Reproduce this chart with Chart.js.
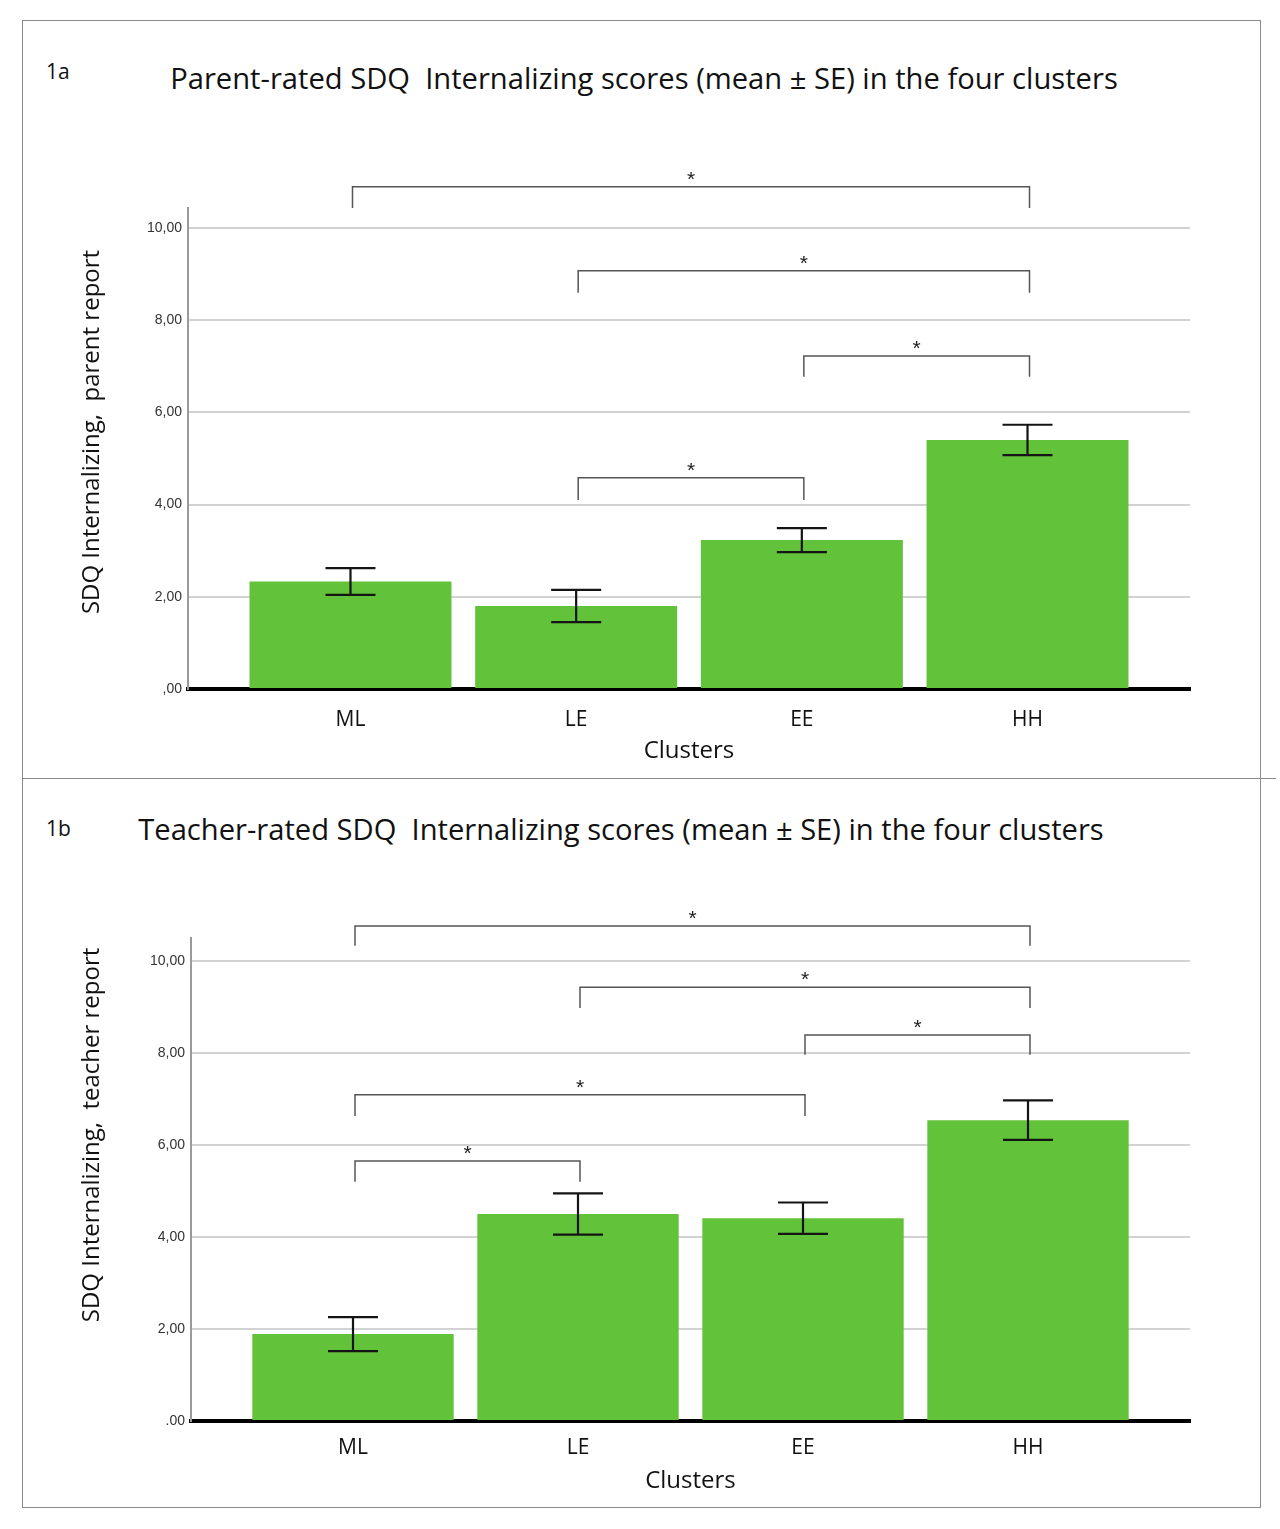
<!DOCTYPE html>
<html><head><meta charset="utf-8">
<script src="https://cdn.jsdelivr.net/npm/chart.js@4.4.1/dist/chart.umd.min.js"></script>
<style>
body{margin:0;background:#fff;width:1280px;height:1529px;position:relative;overflow:hidden;font-family:"Open Sans",sans-serif}
.panel{position:absolute;border:1px solid #8a8a8a;box-sizing:border-box}
.wrap{position:absolute;left:0;width:1280px}
.lab{position:absolute;color:#111;white-space:nowrap;line-height:1}
</style></head><body>
<div class="panel" style="left:22px;top:20px;width:1239px;height:759px"></div>
<div class="panel" style="left:22px;top:778px;width:1239px;height:730px"></div>
<div style="position:absolute;left:22px;top:778px;width:1254px;height:1px;background:#8a8a8a"></div>

<div class="lab" id="n1" style="left:46px;top:61px;font-size:21px">1a</div>
<div class="lab" id="t1" data-w="948" data-cx="644" style="top:64px;font-size:26px">Parent-rated SDQ&nbsp; Internalizing scores (mean ± SE) in the four clusters</div>
<div class="lab" id="n2" style="left:46px;top:818px;font-size:21px">1b</div>
<div class="lab" id="t2" data-w="966" data-cx="621" style="top:815px;font-size:26px">Teacher-rated SDQ&nbsp; Internalizing scores (mean ± SE) in the four clusters</div>

<div class="wrap" style="top:20px;height:758px"><canvas id="c1" width="1280" height="758"></canvas></div>
<div class="wrap" style="top:778px;height:729px"><canvas id="c2" width="1280" height="729"></canvas></div>

<script>
// ---- data ----
const clusters = ["ML", "LE", "EE", "HH"];
const parentMeans = [2.33, 1.80, 3.23, 5.40];
const parentSE = [0.29, 0.35, 0.26, 0.33];
const teacherMeans = [1.89, 4.50, 4.41, 6.54];
const teacherSE = [0.37, 0.45, 0.34, 0.43];
const parentTicks = ["10,00", "8,00", "6,00", "4,00", "2,00", ",00"];
const teacherTicks = ["10,00", "8,00", "6,00", "4,00", "2,00", ".00"];
// significance brackets: [from cluster, to cluster, bar level, leg end]
const parentBrackets = [[0, 3, 10.89, 10.43], [1, 3, 9.07, 8.59], [2, 3, 7.22, 6.77], [1, 2, 4.58, 4.10]];
const teacherBrackets = [[0, 3, 10.76, 10.33], [1, 3, 9.43, 8.98], [2, 3, 8.39, 7.96], [0, 2, 7.09, 6.63], [0, 1, 5.65, 5.20]];

// fit titles
document.querySelectorAll('[data-w]').forEach(el => {
  const w = +el.dataset.w, cx = +el.dataset.cx;
  const r = el.getBoundingClientRect().width;
  const fs = 26 * w / r;
  el.style.fontSize = fs + 'px';
  const r2 = el.getBoundingClientRect().width;
  el.style.left = (cx - r2 / 2) + 'px';
});

const annot = {
  id: 'annot',
  afterDatasetsDraw(chart) {
    const o = chart.options.plugins.annot;
    const xs = chart.scales.x, ys = chart.scales.y, ctx = chart.ctx;
    ctx.save();
    ctx.strokeStyle = '#141414';
    ctx.lineWidth = 2.2;
    o.means.forEach((m, i) => {
      const px = xs.getPixelForValue(i);
      const t = ys.getPixelForValue(m + o.se[i]), b = ys.getPixelForValue(m - o.se[i]);
      ctx.beginPath();
      ctx.moveTo(px, t); ctx.lineTo(px, b);
      ctx.moveTo(px - 25, t); ctx.lineTo(px + 25, t);
      ctx.moveTo(px - 25, b); ctx.lineTo(px + 25, b);
      ctx.stroke();
    });
    ctx.strokeStyle = '#555';
    ctx.lineWidth = 1.5;
    ctx.fillStyle = '#222';
    ctx.font = '21px "Liberation Sans"';
    ctx.textAlign = 'center';
    ctx.textBaseline = 'alphabetic';
    o.brackets.forEach(([a, bb, lvl, leg]) => {
      const xa = xs.getPixelForValue(a) + 2, xb = xs.getPixelForValue(bb) + 2;
      const yl = ys.getPixelForValue(lvl), yg = ys.getPixelForValue(leg);
      ctx.beginPath();
      ctx.moveTo(xa, yg); ctx.lineTo(xa, yl); ctx.lineTo(xb, yl); ctx.lineTo(xb, yg);
      ctx.stroke();
      ctx.fillText('*', (xa + xb) / 2, yl - 1);
    });
    // y-axis title
    ctx.fillStyle = '#111';
    ctx.font = '24px "Open Sans"';
    ctx.textBaseline = 'middle';
    ctx.translate(o.yTitleX, o.yTitleY);
    ctx.rotate(-Math.PI / 2);
    ctx.fillText(o.yTitle, 0, 0);
    ctx.restore();
  }
};

function makeChart(id, means, se, brackets, tickLabels, yTitle, yTitleY, yMax, areaTop, areaLeft, bottomH, tickPad, titlePad) {
  const yTickMap = {10: tickLabels[0], 8: tickLabels[1], 6: tickLabels[2], 4: tickLabels[3], 2: tickLabels[4], 0: tickLabels[5]};
  return new Chart(document.getElementById(id), {
    type: 'bar',
    data: {
      datasets: [{
        data: means.map((v, i) => ({x: i, y: v})),
        backgroundColor: '#62c23a',
        borderWidth: 0,
        barPercentage: 0.895,
        categoryPercentage: 1
      }]
    },
    options: {
      responsive: false,
      animation: false,
      devicePixelRatio: 1,
      layout: {padding: {top: areaTop, left: 0, right: 90, bottom: 0}},
      plugins: {
        legend: {display: false}, tooltip: {enabled: false}, title: {display: false},
        annot: {means: means, se: se, brackets: brackets, yTitle: yTitle, yTitleX: 92, yTitleY: yTitleY}
      },
      scales: {
        x: {
          type: 'linear', min: -0.72, max: 3.72, offset: false,
          afterBuildTicks: s => { s.ticks = clusters.map((c, i) => ({value: i})); },
          afterFit: s => { s.height = bottomH; },
          grid: {display: false, drawTicks: false},
          border: {display: true, color: '#000', width: 4},
          ticks: {callback: v => clusters[v], padding: tickPad, color: '#111', font: {family: 'Open Sans', size: 21}, maxRotation: 0, autoSkip: false},
          title: {display: true, text: 'Clusters', color: '#111', font: {family: 'Open Sans', size: 24}, padding: {top: 0, bottom: titlePad}}
        },
        y: {
          min: 0, max: yMax,
          afterFit: s => { s.width = areaLeft; },
          ticks: {stepSize: 2, includeBounds: false, padding: 6, color: '#333', font: {family: 'Liberation Sans', size: 14}, callback: v => yTickMap[v]},
          grid: {color: '#d2d2d2', lineWidth: 2, drawTicks: false},
          border: {display: true, color: '#9a9a9a', width: 2},
          title: {display: false}
        }
      }
    },
    plugins: [annot]
  });
}

makeChart('c1', parentMeans, parentSE, parentBrackets, parentTicks, 'SDQ Internalizing,  parent report', 412, 10.43, 188, 188, 89, 18, 12);
makeChart('c2', teacherMeans, teacherSE, teacherBrackets, teacherTicks, 'SDQ Internalizing,  teacher report', 357, 10.5, 160, 191, 86, 14, 11);
</script>
</body></html>
